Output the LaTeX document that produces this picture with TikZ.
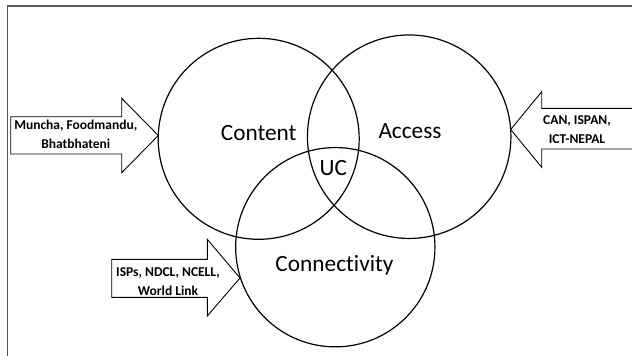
\documentclass[tikz,border=0pt]{standalone}
\usepackage{fontspec}
\setmainfont{Carlito}[Ligatures=NoCommon]
\begin{document}
\begin{tikzpicture}[x=1pt,y=-1pt,
  frameline/.style={draw=black!65, line width=1.3pt},
  setcircle/.style={circle, draw, line width=1.2pt, inner sep=0pt},
  setlabel/.style={font=\fontsize{23.3}{28}\selectfont, anchor=base, inner sep=0pt},
  blockarrow/.style={draw, line width=0.9pt, fill=white, line join=miter},
  arrowlabel/.style={font=\fontsize{13.5}{19}\selectfont\bfseries, align=center, inner sep=0pt}]
\useasboundingbox (0,0) rectangle (632,356);
% frame
\coordinate (ftr) at (634,6);
\coordinate (ftl) at (7.3,6);
\coordinate (fbl) at (7.3,358);
\draw[frameline] (ftr) -- (ftl) -- (fbl);
% circles
\node[setcircle, minimum size=201pt] (content) at (258.7,138.8) {};
\node[setcircle, minimum size=203.5pt] (access) at (409.2,136.7) {};
\node[setcircle, minimum size=199.3pt] (connectivity) at (335.3,247.2) {};
% labels
\node[setlabel] (lcontent) at (258.7,140.7) {Content};
\node[setlabel] (laccess) at (410,138.3) {Access};
\node[setlabel] (luc) at (333.3,175) {UC};
\node[setlabel] (lconn) at (334.5,271.7) {Connectivity};
% left arrow
\draw[blockarrow] (10.7,116.7) -- (121.7,116.7) -- (121.7,98.3) -- (158.3,135.5)
  -- (121.7,172.7) -- (121.7,154) -- (10.7,154) -- cycle;
\node[arrowlabel] (tleft) at (75.8,134.3) {Muncha, Foodmandu,\\Bhatbhateni};
% right arrow
\draw[blockarrow] (634,108.3) -- (541.7,108.3) -- (541.7,91.7) -- (510.7,129.5)
  -- (541.7,167.3) -- (541.7,149) -- (634,149);
\node[arrowlabel] (tright) at (577,129.3) {CAN, ISPAN,\\ICT-NEPAL};
% bottom arrow
\draw[blockarrow] (111.7,259.3) -- (207.3,259.3) -- (207.3,239.3) -- (240,278)
  -- (207.3,316) -- (207.3,297.3) -- (111.7,297.3) -- cycle;
\node[arrowlabel] (tbottom) at (168,282) {ISPs, NDCL, NCELL,\\World Link};
\end{tikzpicture}
\end{document}
